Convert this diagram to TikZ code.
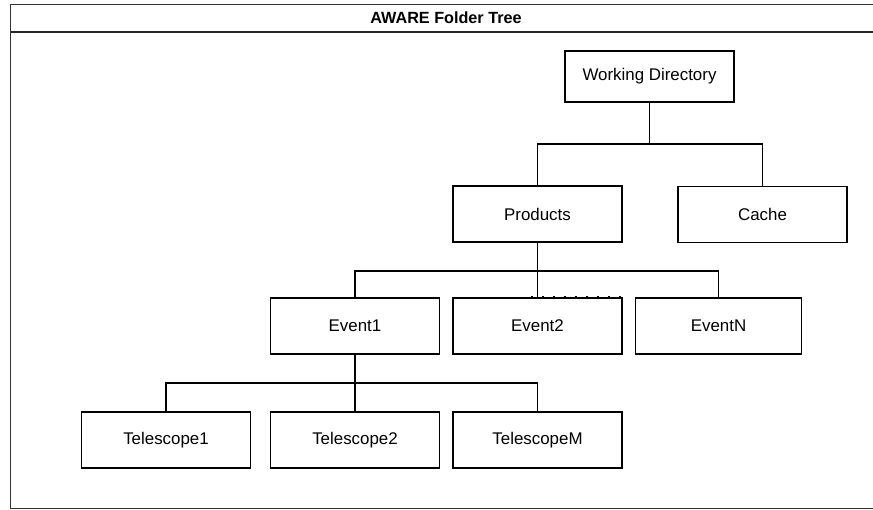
\documentclass[tikz,border=0pt]{standalone}
\usepackage{fontspec}
\setmainfont{Liberation Sans}
\begin{document}
\begin{tikzpicture}[
  x=1pt, y=-1pt,
  line width=1.2pt,
  folder/.style={draw, minimum width=169pt, minimum height=56pt, inner sep=0pt,
    font=\fontsize{16.9}{19}\selectfont},
  title/.style={font=\bfseries\fontsize{16.2}{19}\selectfont}
]
\useasboundingbox (0,0) rectangle (873,510);
% frame and title bar
\draw[line width=1.5pt, black!80] (10.5,4.5) rectangle (882,508.5);
\draw[line width=1.5pt, black!85] (10.5,32) -- (882,32);
\node[title] (ttl) at (446,18) {AWARE Folder Tree};
% folders
\node[folder, minimum height=51pt] (wd) at (649.5,76.5) {Working Directory};
\node[folder] (prod) at (537.5,214) {Products};
\node[folder] (cache) at (762.5,214.5) {Cache};
\node[folder] (ev1) at (355,326) {Event1};
\node[folder] (ev2) at (537.5,326) {Event2};
\node[folder, minimum width=166pt] (evn) at (718.5,326) {EventN};
\node[folder] (tel1) at (166,440) {Telescope1};
\node[folder] (tel2) at (355,440) {Telescope2};
\node[folder] (telm) at (537.5,440) {TelescopeM};
% branch points
\coordinate (j1) at (649.5,144);
\coordinate (j2) at (537.5,271);
\coordinate (j3) at (355,383);
% tree
\draw (wd.south) -- (j1);
\draw (prod.north) |- (j1) -| (cache.north);
\draw (prod.south) -- (ev2.north);
\draw (ev1.north) |- (j2) -| (evn.north);
\draw[dash pattern=on 2pt off 9pt, line width=1.6pt]
  ([xshift=-7pt,yshift=1pt]ev2.north) -- ([yshift=1pt]ev2.north east);
\draw (ev1.south) -- (tel2.north);
\draw (tel1.north) |- (j3) -| (telm.north);
\end{tikzpicture}
\end{document}
